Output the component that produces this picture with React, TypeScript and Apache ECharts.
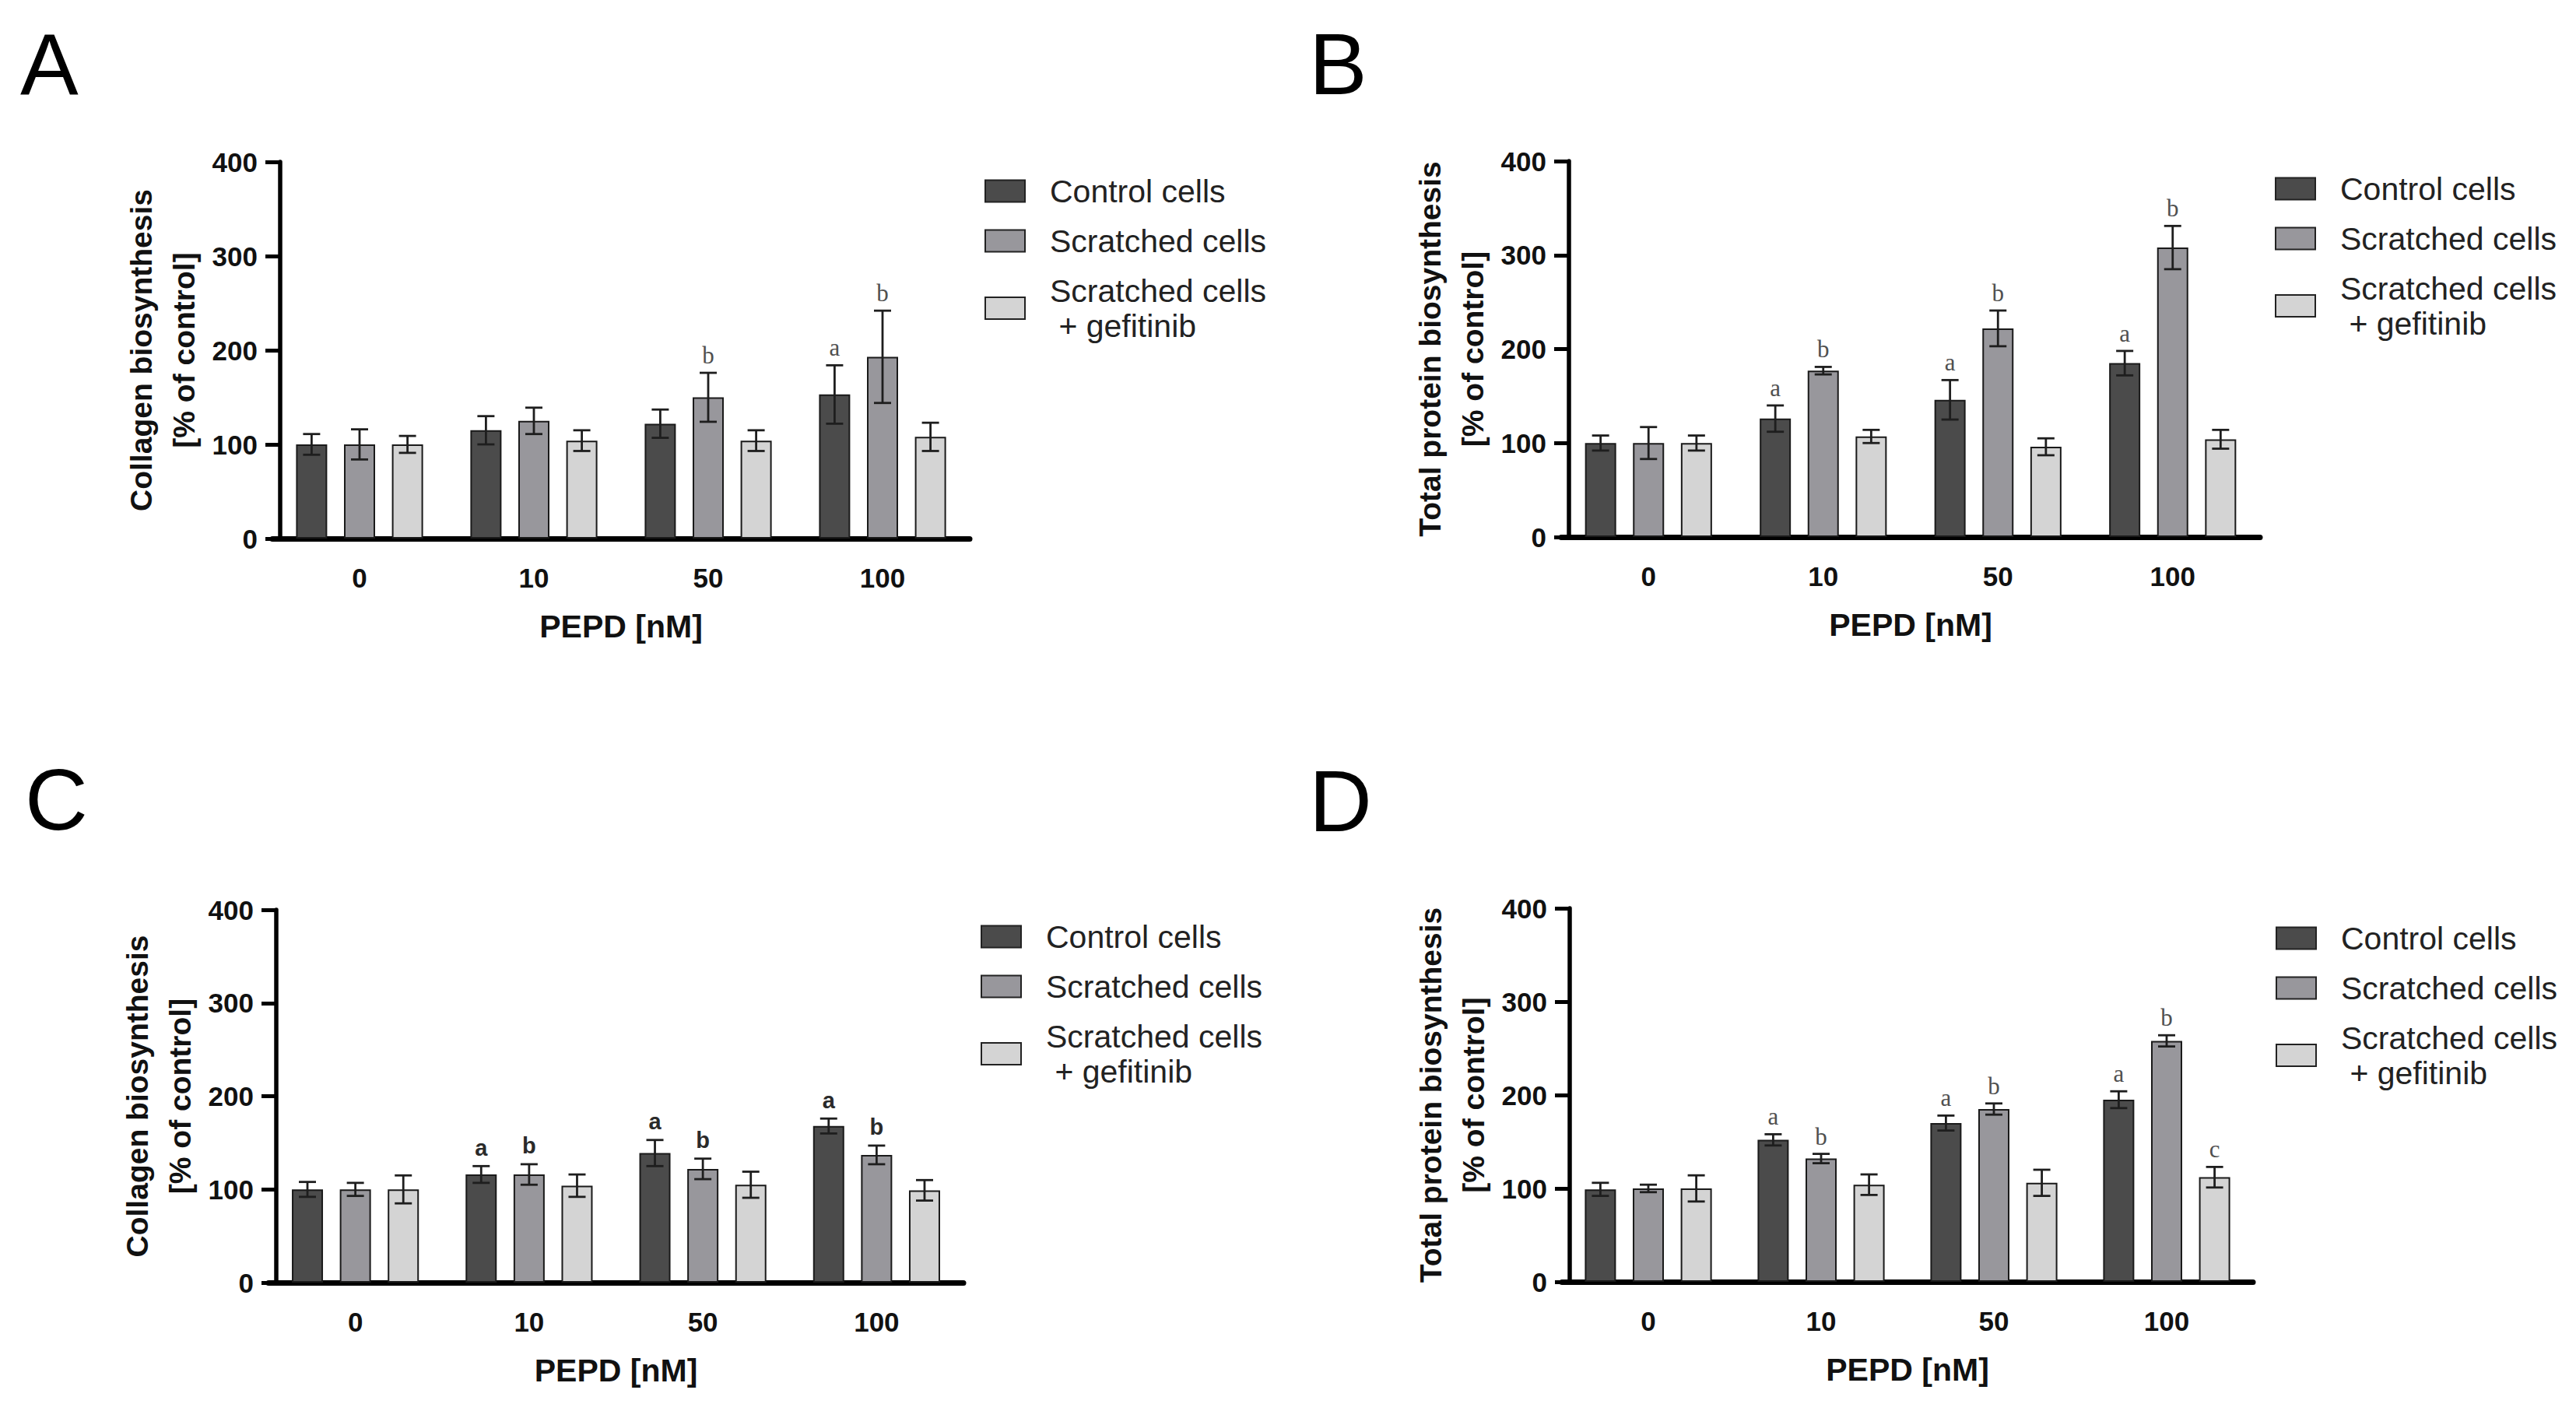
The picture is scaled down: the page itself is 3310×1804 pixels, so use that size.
import { useEffect, useRef } from "react";
import * as echarts from "echarts";

// PEPD concentrations [nM]
const categories = ["0", "10", "50", "100"];
const groupNames = ["Control cells", "Scratched cells", "Scratched cells\n + gefitinib"];
const barColors = ["#4b4b4b", "#98979c", "#d4d4d4"];

// A – collagen biosynthesis
const aMeans = [
  [100, 115, 122, 153],
  [100, 125, 150, 193],
  [100, 104, 104, 108],
];
const aSds = [
  [11, 15, 15, 31],
  [16, 14, 26, 49],
  [9, 11, 11, 15],
];
const aLetters = [
  ["", "", "", "a"],
  ["", "", "b", "b"],
  ["", "", "", ""],
];

// B – total protein biosynthesis
const bMeans = [
  [100, 126, 146, 185],
  [100, 177, 222, 308],
  [100, 107, 96, 104],
];
const bSds = [
  [8, 14, 21, 13],
  [17, 4, 19, 23],
  [8, 7, 9, 10],
];
const bLetters = [
  ["", "a", "a", "a"],
  ["", "b", "b", "b"],
  ["", "", "", ""],
];

// C – collagen biosynthesis
const cMeans = [
  [100, 116, 139, 168],
  [100, 116, 122, 137],
  [100, 104, 105, 99],
];
const cSds = [
  [8, 9, 14, 8],
  [7, 11, 11, 10],
  [15, 12, 14, 11],
];
const cLetters = [
  ["", "a", "a", "a"],
  ["", "b", "b", "b"],
  ["", "", "", ""],
];

// D – total protein biosynthesis
const dMeans = [
  [99, 152, 170, 195],
  [100, 132, 185, 258],
  [100, 104, 106, 112],
];
const dSds = [
  [7, 6, 8, 9],
  [4, 5, 6, 6],
  [14, 11, 14, 11],
];
const dLetters = [
  ["", "a", "a", "a"],
  ["", "b", "b", "b"],
  ["", "", "", "c"],
];

const SANS = "'Liberation Sans', Arial, Helvetica, sans-serif";
const SERIF = "'Liberation Serif', 'Times New Roman', serif";
const BAR_W = 40;
const BAR_STEP = 61.6;

const collagenName = "Collagen biosynthesis\n[% of control]";
const proteinName = "Total protein biosynthesis\n[% of control]";

const panels = [
  { tag: "A", tagX: 26, tagY: 82, grid: { left: 350, top: 208, width: 896, height: 484 }, legend: { left: 1265, top: 223 }, yName: collagenName, means: aMeans, sds: aSds, letters: aLetters, boldLetters: false },
  { tag: "B", tagX: 1682, tagY: 82, grid: { left: 2006, top: 207, width: 898, height: 483 }, legend: { left: 2923, top: 220 }, yName: proteinName, means: bMeans, sds: bSds, letters: bLetters, boldLetters: false },
  { tag: "C", tagX: 32, tagY: 1027, grid: { left: 345, top: 1169, width: 893, height: 479 }, legend: { left: 1260, top: 1181 }, yName: collagenName, means: cMeans, sds: cSds, letters: cLetters, boldLetters: true },
  { tag: "D", tagX: 1682, tagY: 1029, grid: { left: 2007, top: 1167, width: 888, height: 480 }, legend: { left: 2924, top: 1183 }, yName: proteinName, means: dMeans, sds: dSds, letters: dLetters, boldLetters: false },
];

function buildOption() {
  const grids: any[] = [];
  const xAxes: any[] = [];
  const yAxes: any[] = [];
  const legends: any[] = [];
  const series: any[] = [];
  const graphics: any[] = [];

  panels.forEach((p, pi) => {
    grids.push({ ...p.grid, containLabel: false });
    xAxes.push({
      type: "category",
      gridIndex: pi,
      data: categories,
      name: "PEPD [nM]",
      nameLocation: "middle",
      nameGap: 92,
      nameTextStyle: { fontFamily: SANS, fontSize: 41, fontWeight: "bold", color: "#111" },
      axisLine: { lineStyle: { color: "#000", width: 7 } },
      axisTick: { alignWithLabel: true, length: 16, lineStyle: { color: "#000", width: 6 } },
      axisLabel: { margin: 33, fontFamily: SANS, fontSize: 35, fontWeight: "bold", color: "#111" },
    });
    yAxes.push({
      type: "value",
      gridIndex: pi,
      min: 0,
      max: 400,
      interval: 100,
      offset: -10,
      name: p.yName,
      nameLocation: "middle",
      nameRotate: 90,
      nameGap: 96,
      nameTextStyle: { fontFamily: SANS, fontSize: 39, fontWeight: "bold", color: "#111", lineHeight: 55, align: "center" },
      axisLine: { show: true, lineStyle: { color: "#000", width: 5.5 } },
      axisTick: { show: true, length: 19, lineStyle: { color: "#000", width: 5 } },
      axisLabel: { margin: 29, fontFamily: SANS, fontSize: 35, fontWeight: "bold", color: "#111" },
      splitLine: { show: false },
    });
    legends.push({
      left: p.legend.left,
      top: p.legend.top,
      orient: "vertical",
      padding: 0,
      itemWidth: 51,
      itemHeight: 28,
      itemGap: 19,
      selectedMode: false,
      icon: "rect",
      data: groupNames,
      itemStyle: { borderColor: "#222", borderWidth: 2 },
      textStyle: { fontFamily: SANS, fontSize: 41, lineHeight: 45, color: "#222", padding: [0, 0, 0, 27] },
    });

    groupNames.forEach((name, gi) => {
      series.push({
        type: "bar",
        name,
        xAxisIndex: pi,
        yAxisIndex: pi,
        data: p.means[gi],
        barWidth: BAR_W,
        barGap: "54%",
        itemStyle: { color: barColors[gi], borderColor: "#1a1a1a", borderWidth: 2 },
        z: 2,
      });
    });

    const errData: number[][] = [];
    p.means.forEach((row, gi) => {
      row.forEach((m, ci) => errData.push([ci, m, p.sds[gi][ci], gi]));
    });
    const letters = p.letters;
    const bold = p.boldLetters;
    series.push({
      type: "custom",
      xAxisIndex: pi,
      yAxisIndex: pi,
      data: errData,
      encode: { x: 0, y: 1 },
      z: 5,
      renderItem: (_params: any, api: any) => {
        const ci = api.value(0);
        const mean = api.value(1);
        const sd = api.value(2);
        const gi = api.value(3);
        const x = api.coord([ci, mean])[0] + (gi - 1) * BAR_STEP;
        const yTop = api.coord([ci, mean + sd])[1];
        const yBot = api.coord([ci, mean - sd])[1];
        const ls = { stroke: "#1e1e1e", lineWidth: 2.8 };
        const children: any[] = [
          { type: "line", shape: { x1: x, y1: yTop, x2: x, y2: yBot }, style: ls },
          { type: "line", shape: { x1: x - 11, y1: yTop, x2: x + 11, y2: yTop }, style: ls },
          { type: "line", shape: { x1: x - 11, y1: yBot, x2: x + 11, y2: yBot }, style: ls },
        ];
        const letter = letters[gi][ci];
        if (letter) {
          children.push({
            type: "text",
            x,
            y: yTop - (bold ? 9 : 7),
            style: bold
              ? { text: letter, fontFamily: SANS, fontSize: 29, fontWeight: "bold", fill: "#2a2a2a", align: "center", verticalAlign: "bottom" }
              : { text: letter, fontFamily: SERIF, fontSize: 31, fill: "#505050", align: "center", verticalAlign: "bottom" },
          });
        }
        return { type: "group", children };
      },
    });

    graphics.push({
      type: "text",
      x: p.tagX,
      y: p.tagY,
      style: { text: p.tag, fontFamily: SANS, fontSize: 112, fill: "#000", verticalAlign: "middle" },
    });
  });

  return {
    animation: false,
    backgroundColor: "#fff",
    textStyle: { fontFamily: SANS },
    grid: grids,
    xAxis: xAxes,
    yAxis: yAxes,
    legend: legends,
    series,
    graphic: graphics,
  };
}

export default function App() {
  const ref = useRef<HTMLDivElement | null>(null);

  useEffect(() => {
    if (!ref.current) return;
    const chart = echarts.init(ref.current, null, { renderer: "svg" });
    chart.setOption(buildOption());
    return () => chart.dispose();
  }, []);

  return (
    <div
      ref={ref}
      style={{ position: "fixed", left: 0, top: 0, width: 3310, height: 1804, background: "#fff" }}
    />
  );
}
